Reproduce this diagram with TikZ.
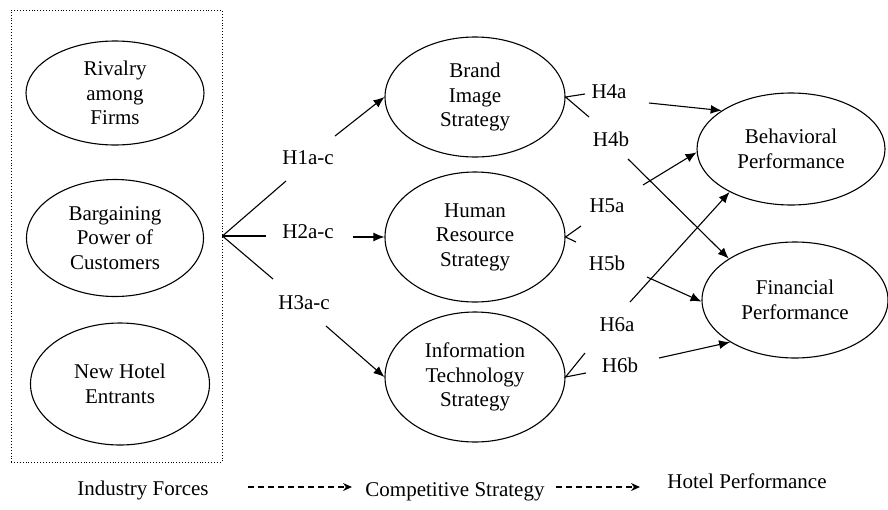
\documentclass[tikz,border=0pt]{standalone}
\usepackage{fontspec}
\setmainfont{Liberation Serif}
\usetikzlibrary{shapes.geometric,arrows.meta}
\begin{document}
\begin{tikzpicture}[x=1pt,y=-1pt,
  ell/.style={draw,ellipse,line width=1.1pt,inner sep=0pt,align=center,font=\fontsize{21}{24.5}\selectfont},
  lbl/.style={inner sep=0pt,font=\fontsize{21}{24.5}\selectfont},
  conn/.style={line width=1.1pt},
  arr/.style={conn,-{Latex[length=11pt,width=9pt]}},
  leg/.style={line width=1.2pt,dash pattern=on 6pt off 4pt,-{Stealth[length=9pt,width=8pt]}}]
\useasboundingbox (0,0) rectangle (888,509);
% dotted box
\node[draw,dotted,line width=0.9pt,minimum width=211pt,minimum height=452pt,inner sep=0pt] (box) at (116.5,236) {};
% left ellipses
\node[ell,minimum width=178pt,minimum height=104pt] (rival) at (115,93) {Rivalry\\among\\Firms};
\node[ell,minimum width=177pt,minimum height=117pt] (barg) at (115,238) {Bargaining\\Power of\\Customers};
\node[ell,minimum width=179pt,minimum height=122pt] (newh) at (120,384) {New Hotel\\Entrants};
% strategies
\node[ell,minimum width=180pt,minimum height=120pt] (brand) at (475,97) {Brand\\Image\\Strategy};
\node[ell,minimum width=180pt,minimum height=130pt] (human) at (475,237) {Human\\Resource\\Strategy};
\node[ell,minimum width=180pt,minimum height=130pt] (info) at (475,377) {Information\\Technology\\Strategy};
% performance
\node[ell,minimum width=188pt,minimum height=112pt] (behav) at (791,149) {Behavioral\\Performance};
\node[ell,minimum width=186pt,minimum height=116pt] (fin) at (795,300) {Financial\\Performance};
% labels
\node[lbl] (h1) at (308,158) {H1a-c};
\node[lbl] (h2) at (308,232) {H2a-c};
\node[lbl] (h3) at (304,303) {H3a-c};
\node[lbl] (h4a) at (609,92) {H4a};
\node[lbl] (h4b) at (611,139) {H4b};
\node[lbl] (h5a) at (607,206) {H5a};
\node[lbl] (h5b) at (607,263) {H5b};
\node[lbl] (h6a) at (617,325) {H6a};
\node[lbl] (h6b) at (620,365) {H6b};
% coordinates
\coordinate (h1s) at (286,181);
\coordinate (h1e) at (335,136);
\coordinate (h2s) at (266,236);
\coordinate (h2e) at (353,237);
\coordinate (h3s) at (273,279);
\coordinate (h3e) at (326,326);
\coordinate (b4a) at (585,94);
\coordinate (b4b) at (589,117);
\coordinate (b5a) at (581,226);
\coordinate (b5b) at (576,242);
\coordinate (b6a) at (585,353);
\coordinate (b6b) at (586,373);
\coordinate (s4a) at (649,103);
\coordinate (s4b) at (628,159);
\coordinate (s5a) at (643,185);
\coordinate (s5b) at (647,277);
\coordinate (s6a) at (630,302);
\coordinate (s6b) at (659,358);
% industry forces -> strategies
\draw[conn] (box.east) -- (h1s);
\draw[arr] (h1e) -- (brand.west);
\draw[conn] (box.east) -- (h2s);
\draw[arr] (h2e) -- (human.west);
\draw[conn] (box.east) -- (h3s);
\draw[arr] (h3e) -- (info.west);
% forks
\draw[conn] (b4a) -- (brand.east) -- (b4b);
\draw[conn] (b5a) -- (human.east) -- (b5b);
\draw[conn] (b6a) -- (info.east) -- (b6b);
% strategies -> performance
\draw[arr] (s4a) -- (behav.151);
\draw[arr] (s4b) -- (fin.148);
\draw[arr] (s5a) -- (behav.182);
\draw[arr] (s5b) -- (fin.181);
\draw[arr] (s6a) -- (behav.215);
\draw[arr] (s6b) -- (fin.213);
% legend
\node[lbl,anchor=base] (lf) at (143,495) {Industry Forces};
\node[lbl,anchor=base] (cs) at (455,496) {Competitive Strategy};
\node[lbl,anchor=base] (hp) at (747,488) {Hotel Performance};
\coordinate (d1s) at (248,487);
\coordinate (d1e) at (352,487);
\coordinate (d2s) at (556,487);
\coordinate (d2e) at (640,487);
\draw[leg] (d1s) -- (d1e);
\draw[leg] (d2s) -- (d2e);
\end{tikzpicture}
\end{document}
